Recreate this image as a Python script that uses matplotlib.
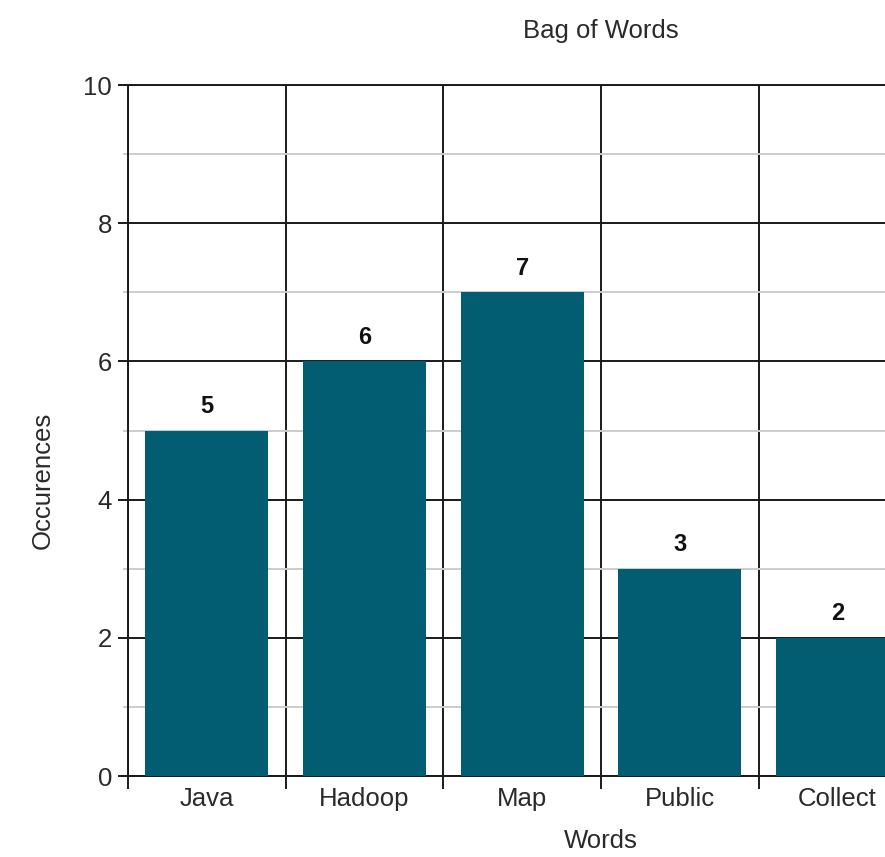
import matplotlib.pyplot as plt
from matplotlib.ticker import MultipleLocator

words = ["Java", "Hadoop", "Map", "Public", "Collect"]
counts = [5, 6, 7, 3, 2]
# the chart is cropped on the right: six category slots, five visible
n_slots = 6

plt.rcParams["font.family"] = ["Liberation Sans", "DejaVu Sans"]
text_color = "#2a2a2a"

fig = plt.figure(figsize=(8.85, 8.57), dpi=100)
ax = fig.add_axes([0.1446, 0.0945, 1.069, 0.8063])

pos = list(range(len(words)))
bars = ax.bar(pos, counts, width=0.78, color="#025d72", zorder=3)
ax.bar_label(bars, padding=9, fontsize=17, fontweight="bold", color="#111111")

ax.set_xlim(-0.5, n_slots - 0.5)
ax.set_ylim(0, 10)

# category boundaries as major ticks (grid), labels at centres
ax.set_xticks([i - 0.5 for i in range(n_slots + 1)])
ax.set_xticklabels([])
ax.set_xticks(pos, labels=words, minor=True)
ax.tick_params(axis="x", which="major", length=9, width=1.4, color="#1a1a1a")
ax.tick_params(axis="x", which="minor", length=0, pad=8, labelsize=18.5,
               labelcolor=text_color)

ax.yaxis.set_major_locator(MultipleLocator(2))
ax.yaxis.set_minor_locator(MultipleLocator(1))
ax.tick_params(axis="y", which="major", length=7.5, width=1.4, color="#1a1a1a",
               labelsize=18.5, labelcolor=text_color, pad=4)
ax.tick_params(axis="y", which="minor", length=3.6, width=1.4, color="#cccccc")

ax.grid(axis="x", which="major", color="#1a1a1a", linewidth=1.4, zorder=1)
ax.grid(axis="y", which="major", color="#1a1a1a", linewidth=1.4, zorder=1)
ax.grid(axis="y", which="minor", color="#cccccc", linewidth=1.4, zorder=1)
ax.set_axisbelow(True)

for side in ["left", "bottom", "top"]:
    ax.spines[side].set_color("#1a1a1a")
    ax.spines[side].set_linewidth(1.4)
ax.spines["right"].set_visible(False)

ax.set_title("Bag of Words", fontsize=18.5, color=text_color, pad=34)
ax.set_xlabel("Words", fontsize=18.5, color=text_color)
ax.xaxis.label.set_va("top")
ax.xaxis.set_label_coords(0.5, -0.076)
ax.set_ylabel("Occurences", fontsize=18.5, color=text_color)
ax.yaxis.set_label_coords(-0.077, 0.428)

fig.savefig("out.png", dpi=100)
